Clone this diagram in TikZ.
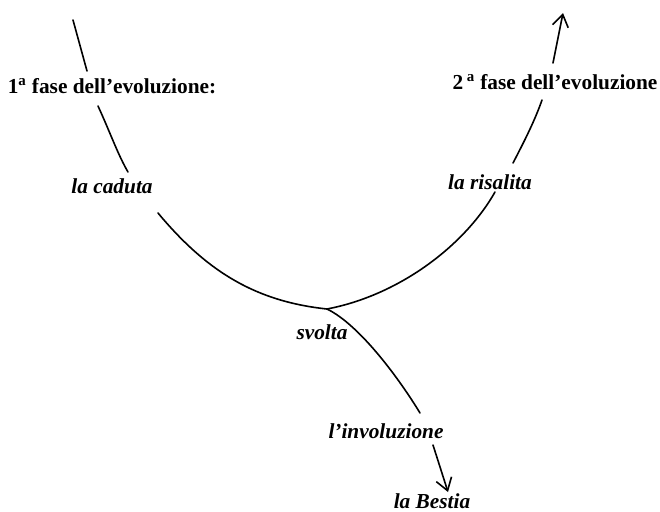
\documentclass[tikz,border=0pt]{standalone}
\usepackage{fontspec}
\setmainfont{Liberation Serif}
\usetikzlibrary{arrows.meta}
\begin{document}
\begin{tikzpicture}[x=0.75pt,y=-0.75pt,
  phase/.style={font=\fontsize{16}{19}\selectfont\bfseries, inner sep=0pt},
  stage/.style={font=\fontsize{16}{19}\selectfont\bfseries\itshape, inner sep=0pt},
  curve line/.style={line width=1.2pt, line cap=round},
  barb/.style={curve line, -{Straight Barb[length=9pt,width=12pt,line width=1.2pt]}}]
\useasboundingbox (0,0) rectangle (660,511);

% labels
\node[phase] (fase1) at (112,86) {1\textsuperscript{a} fase dell’evoluzione:};
\node[phase] (fase2) at (555,82) {2\,\textsuperscript{a} fase dell’evoluzione};
\node[stage] (caduta) at (112,186) {la caduta};
\node[stage] (risalita) at (490,182) {la risalita};
\node[stage] (svolta) at (322,332) {svolta};
\node[stage] (involuzione) at (386,431) {l’involuzione};
\node[stage, anchor=base] (bestia) at (432,508) {la Bestia};

% points along the path
\coordinate (a1) at (73,20);
\coordinate (a2) at (87,71);
\coordinate (a3) at (98,106);
\coordinate (a4) at (128,172);
\coordinate (a5) at (158,213);
\coordinate (turn) at (327,309);
\coordinate (b1) at (495,192);
\coordinate (b2) at (513,163);
\coordinate (b3) at (542,100);
\coordinate (b4) at (553,63);
\coordinate (b5) at (563,13);
\coordinate (c1) at (420,413);
\coordinate (c2) at (433,445);
\coordinate (c3) at (448,492);

% the fall
\draw[curve line] (a1) -- (a2);
\draw[curve line] (a3) .. controls (110,132) and (118,155) .. (a4);
\draw[curve line] (a5) .. controls (208,273) and (257,301.5) .. (turn);
% the rise
\draw[curve line] (turn) .. controls (400,295) and (465,245) .. (b1);
\draw[curve line] (b2) .. controls (525,140) and (535,120) .. (b3);
\draw[barb] (b4) -- (b5);
% the involution
\draw[curve line] (turn) .. controls (360,325) and (400,380) .. (c1);
\draw[barb] (c2) -- (c3);
\end{tikzpicture}
\end{document}
